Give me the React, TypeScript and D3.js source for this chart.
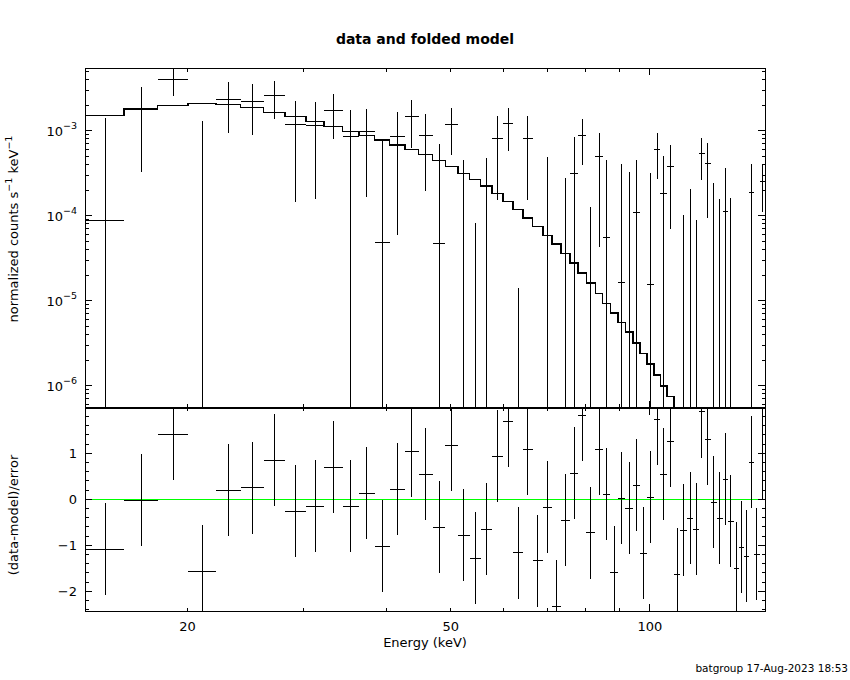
import React from 'react';
import * as d3 from 'd3';

// Bin edges in keV (59 channels)
const energyEdges = [14, 16.04, 18.03, 20.03, 22.07, 24.07, 26.08, 28.07, 30.21, 32.19, 34.31, 36.36, 38.35, 40.41, 42.64, 44.71, 46.94, 49.07, 51.28, 53.4, 55.48, 57.73, 59.99, 62.11, 64.31, 66.5, 68.95, 71.15, 73.42, 75.76, 77.9, 80.19, 82.74, 84.87, 87.18, 89.55, 91.86, 94.22, 96.68, 99.07, 101.37, 103.76, 106.21, 108.68, 111.25, 113.72, 116.28, 118.57, 121.08, 123.63, 126.24, 128.77, 131.18, 133.81, 136.3, 138.88, 141.32, 143.81, 146.49, 149.22];

// normalized counts s^-1 keV^-1
const rate = [8.83e-5, 1.78e-3, 4.024e-3, -7.5e-5, 2.34e-3, 2.217e-3, 2.609e-3, 1.189e-3, 1.157e-3, 1.738e-3, 8.59e-4, 9.84e-4, 4.87e-5, 8.59e-4, 1.461e-3, 8.83e-4, 4.68e-5, 1.189e-3, -1.79e-4, -5.75e-4, -2.56e-4, 8.2e-4, 1.222e-3, -6.09e-4, 8.2e-4, -7.97e-4, -3.22e-5, -1.35e-3, -1.68e-4, 3.153e-4, 8.83e-4, -2.85e-4, 4.91e-4, 5.57e-5, -6.28e-4, 1.646e-5, -7.44e-5, 1.076e-4, -4.67e-4, 1.56e-5, 6.04e-4, 1.8e-4, 3.74e-4, -5.7e-4, -2.1e-4, -1.45e-4, -1.68e-4, 5.42e-4, 4.06e-4, -1.7e-5, -1.11e-4, 1.105e-4, -1.49e-4, -4.5e-4, -3.13e-4, -3.72e-4, 1.85e-4, -3.59e-4, 2.53e-4];

const rateErr = [1.334e-3, 1.452e-3, 1.443e-3, 1.375e-3, 1.4e-3, 1.325e-3, 1.234e-3, 1.046e-3, 1.0e-3, 9.4e-4, 8.93e-4, 8.16e-4, 7.28e-4, 8.0e-4, 8.36e-4, 6.89e-4, 6.5e-4, 6.76e-4, 6.31e-4, 6.57e-4, 7.33e-4, 6.69e-4, 6.43e-4, 6.23e-4, 6.69e-4, 6.5e-4, 5.23e-4, 6.0e-4, 4.46e-4, 5.28e-4, 4.9e-4, 4.12e-4, 4.48e-4, 3.96e-4, 4.0e-4, 3.89e-4, 4.01e-4, 3.44e-4, 4.0e-4, 3.05e-4, 3.35e-4, 3.28e-4, 3.05e-4, 3.5e-4, 3.12e-4, 3.51e-4, 2.58e-4, 2.78e-4, 3.11e-4, 2.61e-4, 2.68e-4, 2.54e-4, 3.12e-4, 3.0e-4, 3.0e-4, 3.0e-4, 2.21e-4, 3.0e-4, 1.42e-4];

// folded model
const model = [1.518e-3, 1.814e-3, 1.989e-3, 2.077e-3, 2.044e-3, 1.885e-3, 1.646e-3, 1.461e-3, 1.276e-3, 1.127e-3, 9.84e-4, 8.83e-4, 7.77e-4, 6.79e-4, 6.04e-4, 5.22e-4, 4.44e-4, 3.77e-4, 3.15e-4, 2.68e-4, 2.22e-4, 1.815e-4, 1.477e-4, 1.177e-4, 9.4e-5, 7.5e-5, 5.88e-5, 4.61e-5, 3.57e-5, 2.78e-5, 2.12e-5, 1.615e-5, 1.209e-5, 9.22e-6, 7.11e-6, 5.51e-6, 4.25e-6, 3.18e-6, 2.38e-6, 1.786e-6, 1.336e-6, 9.84e-7, 7.42e-7, 4.2e-7, 3.1e-7, 2.3e-7, 1.7e-7, 1.25e-7, 9.2e-8, 6.8e-8, 5.0e-8, 3.7e-8, 2.7e-8, 2.0e-8, 1.5e-8, 1.1e-8, 8.0e-9, 6.0e-9, 4.4e-9];

// (data-model)/error
const resid = [-1.087, -0.022, 1.413, -1.565, 0.196, 0.246, 0.848, -0.261, -0.152, 0.696, -0.152, 0.13, -1.022, 0.217, 1.043, 0.543, -0.609, 1.174, -0.783, -1.283, -0.652, 0.935, 1.696, -1.167, 1.087, -1.341, -0.174, -2.326, -0.457, 0.565, 1.826, -0.732, 1.087, 0.109, -1.587, 0.022, -0.196, 0.304, -1.174, 0.043, 1.739, 0.543, 1.261, -1.63, -0.674, -0.413, -0.652, 1.899, 1.304, -0.065, -0.413, 0.435, -0.478, -1.5, -1.043, -1.239, 0.804, -1.196, 0.993];

const xTickLabels = [20, 50, 100];
const yDecadeExps = [-3, -4, -5, -6];
const residTickLabels = [1, 0, -1, -2];

const FONT = 'DejaVu Sans';

export default function App() {
  const W = 850, H = 680;
  const L = 85, R = 765, T = 68.3, M = 407.7, B = 611;
  const x = d3.scaleLog().domain([14, 149.3]).range([L, R]);
  const yTop = d3.scaleLog().domain([5.5e-7, 5.42e-3]).range([M, T]);
  const yRes = d3.scaleLinear().domain([-2.43, 1.99]).range([B, M]);

  const bins = rate.map((d, i) => {
    const lo = energyEdges[i], hi = energyEdges[i + 1];
    return { lo, hi, mid: (lo + hi) / 2, d, e: rateErr[i], m: model[i], r: resid[i] };
  });

  // x ticks
  const xTicks: { v: number; major: boolean }[] = [];
  [10, 100].forEach((dec) => {
    for (let k = 1; k <= 9; k++) {
      const v = k * dec;
      if (v >= 14 && v <= 149.3) xTicks.push({ v, major: k === 1 });
    }
  });
  // y ticks (top)
  const yTicks: { v: number; major: boolean }[] = [];
  for (let e = -7; e <= -3; e++) {
    for (let k = 1; k <= 9; k++) {
      const v = k * Math.pow(10, e);
      if (v >= 5.5e-7 && v <= 5.42e-3) yTicks.push({ v, major: k === 1 });
    }
  }
  // residual ticks
  const rTicks: { v: number; major: boolean }[] = [];
  for (let i = -12; i <= 9; i++) {
    const v = i * 0.2;
    if (v >= -2.43 && v <= 1.99) rTicks.push({ v, major: Math.abs(v - Math.round(v)) < 1e-6 });
  }

  const modelPts: [number, number][] = [];
  bins.forEach((b) => {
    modelPts.push([x(b.lo), yTop(b.m)]);
    modelPts.push([x(b.hi), yTop(b.m)]);
  });
  const modelPath = d3.line()(modelPts) || '';

  const majLen = 7, minLen = 3.5;

  const topErr = bins.map((b, i) => {
    const up = b.d + b.e, dn = b.d - b.e;
    const yUp = up > 0 ? yTop(up) : null;
    const yDn = dn > 0 ? yTop(dn) : M + 5;
    const showH = b.d > 0;
    return (
      <g key={i}>
        {yUp !== null && <line x1={x(b.mid)} x2={x(b.mid)} y1={yUp} y2={yDn} />}
        {showH && <line x1={x(b.lo)} x2={x(b.hi)} y1={yTop(b.d)} y2={yTop(b.d)} />}
      </g>
    );
  });

  const resErr = bins.map((b, i) => (
    <g key={i}>
      <line x1={x(b.mid)} x2={x(b.mid)} y1={yRes(b.r + 1)} y2={yRes(b.r - 1)} />
      <line x1={x(b.lo)} x2={x(b.hi)} y1={yRes(b.r)} y2={yRes(b.r)} />
    </g>
  ));

  const sup = (e: number) => '\u2212' + Math.abs(e);

  return (
    <div>
      <style>{`body{margin:0}`}</style>
      <svg width={W} height={H} style={{ display: 'block', background: '#fff' }} fontFamily={FONT}>
        <defs>
          <clipPath id="clipTop"><rect x={L} y={T} width={R - L} height={M - T} /></clipPath>
          <clipPath id="clipRes"><rect x={L} y={M} width={R - L} height={B - M} /></clipPath>
        </defs>
        <rect x={0} y={0} width={W} height={H} fill="#fff" />

        {/* title */}
        <text x={425} y={44} textAnchor="middle" fontSize={14} fontWeight="bold">data and folded model</text>

        {/* top panel data */}
        <g clipPath="url(#clipTop)" stroke="#000" strokeWidth={1} shapeRendering="crispEdges">
          {topErr}
          <path d={modelPath} fill="none" stroke="#000" strokeWidth={1.5} />
        </g>

        {/* residual panel */}
        <g clipPath="url(#clipRes)" shapeRendering="crispEdges">
          <line x1={L} x2={R} y1={yRes(0)} y2={yRes(0)} stroke="#00ff00" strokeWidth={1} />
          <g stroke="#000" strokeWidth={1}>{resErr}</g>
        </g>

        {/* frames */}
        <g fill="none" stroke="#000" shapeRendering="crispEdges">
          <rect x={L} y={T} width={R - L} height={B - T} strokeWidth={1} />
          <line x1={L} x2={R} y1={M} y2={M} strokeWidth={2} />
        </g>

        {/* ticks */}
        <g stroke="#000" strokeWidth={1} shapeRendering="crispEdges">
          {xTicks.map((t, i) => {
            const px = x(t.v);
            const len = t.major ? majLen : minLen;
            return (
              <g key={'xt' + i}>
                <line x1={px} x2={px} y1={T} y2={T + len} />
                <line x1={px} x2={px} y1={M} y2={M - len} />
                <line x1={px} x2={px} y1={M} y2={M + len} />
                <line x1={px} x2={px} y1={B} y2={B - len} />
              </g>
            );
          })}
          {yTicks.map((t, i) => {
            const py = yTop(t.v);
            const len = t.major ? majLen : minLen;
            return (
              <g key={'yt' + i}>
                <line x1={L} x2={L + len} y1={py} y2={py} />
                <line x1={R} x2={R - len} y1={py} y2={py} />
              </g>
            );
          })}
          {rTicks.map((t, i) => {
            const py = yRes(t.v);
            const len = t.major ? majLen : minLen;
            return (
              <g key={'rt' + i}>
                <line x1={L} x2={L + len} y1={py} y2={py} />
                <line x1={R} x2={R - len} y1={py} y2={py} />
              </g>
            );
          })}
        </g>

        {/* tick labels */}
        <g fontSize={13} fill="#000">
          {xTickLabels.map((v) => (
            <text key={'xl' + v} x={x(v)} y={631} textAnchor="middle">{v}</text>
          ))}
          {yDecadeExps.map((e) => (
            <text key={'yl' + e} x={77} y={yTop(Math.pow(10, e)) + 5} textAnchor="end">
              10<tspan dy={-7} fontSize={9.5}>{sup(e)}</tspan>
            </text>
          ))}
          {residTickLabels.map((v) => (
            <text key={'rl' + v} x={77} y={yRes(v) + 5} textAnchor="end">{v < 0 ? '\u2212' + Math.abs(v) : String(v)}</text>
          ))}
        </g>

        {/* axis labels */}
        <text x={425} y={647} textAnchor="middle" fontSize={13}>Energy (keV)</text>
        <text transform="translate(18,229) rotate(-90)" textAnchor="middle" fontSize={13}>
          normalized counts s<tspan dy={-6} fontSize={9.5}>{'\u22121'}</tspan><tspan dy={6}>{'  keV'}</tspan><tspan dy={-6} fontSize={9.5}>{'\u22121'}</tspan>
        </text>
        <text transform="translate(18,515) rotate(-90)" textAnchor="middle" fontSize={13}>(data-model)/error</text>

        {/* footer */}
        <text x={848} y={672} textAnchor="end" fontSize={10.5}>batgroup 17-Aug-2023 18:53</text>
      </svg>
    </div>
  );
}
